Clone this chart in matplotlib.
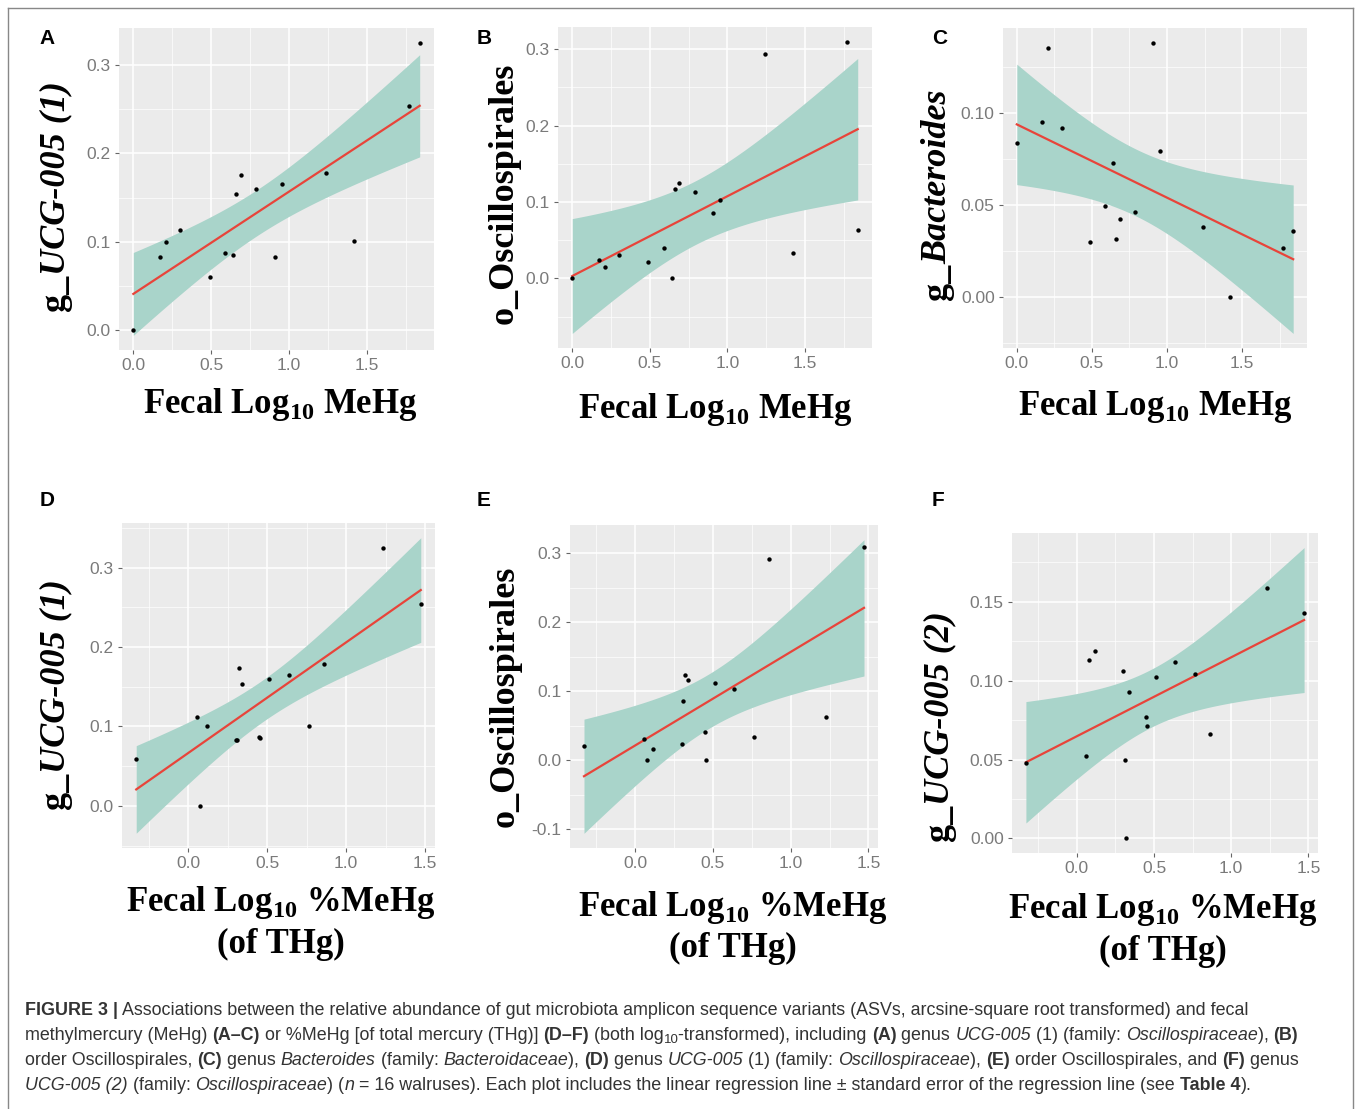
import numpy as np
import matplotlib
matplotlib.use('Agg')
import matplotlib.pyplot as plt
from matplotlib.ticker import MultipleLocator, FormatStrFormatter

plt.rcParams['mathtext.fontset'] = 'custom'
plt.rcParams['mathtext.rm'] = 'Liberation Serif:bold'
plt.rcParams['mathtext.bf'] = 'Liberation Serif:bold'
plt.rcParams['axes.unicode_minus'] = False

W, H = 1357, 1109

# fecal log10 MeHg (panels A-C) and log10 %MeHg (panels D-F), one value per walrus
log_mehg = [0.0, 0.17, 0.21, 0.30, 0.49, 0.59, 0.64, 0.66, 0.69, 0.79, 0.91, 0.955, 1.24, 1.42, 1.77, 1.84]
log_pct_mehg = [-0.33, 0.057, 0.077, 0.117, 0.30, 0.31, 0.32, 0.337, 0.45, 0.452, 0.51, 0.635, 0.765, 0.86, 1.23, 1.472]

ucg005_1_a = [0.0, 0.083, 0.100, 0.113, 0.060, 0.087, 0.085, 0.154, 0.175, 0.160, 0.083, 0.165, 0.178, 0.101, 0.254, 0.325]
oscillo_b = [0.0, 0.024, 0.015, 0.031, 0.021, 0.040, 0.0, 0.117, 0.125, 0.113, 0.086, 0.103, 0.294, 0.033, 0.310, 0.063]
bacteroides_c = [0.0833, 0.095, 0.135, 0.0918, 0.0296, 0.0495, 0.0724, 0.0315, 0.042, 0.046, 0.138, 0.079, 0.038, 0.0, 0.0267, 0.0358]
ucg005_1_d = [0.059, 0.112, 0.0, 0.100, 0.083, 0.083, 0.174, 0.154, 0.0866, 0.085, 0.160, 0.165, 0.101, 0.178, 0.325, 0.254]
oscillo_e = [0.0215, 0.031, 0.0, 0.016, 0.024, 0.086, 0.124, 0.116, 0.041, 0.0, 0.112, 0.103, 0.034, 0.292, 0.063, 0.309]
ucg005_2_f = [0.048, 0.052, 0.113, 0.119, 0.106, 0.050, 0.0, 0.093, 0.077, 0.071, 0.1025, 0.112, 0.104, 0.066, 0.159, 0.143]

T_975_14 = 2.145  # t quantile, n - 2 = 14 df

BG = '#EBEBEB'
BAND = '#A9D4CA'
RED = '#E8443A'
SERIF = 'Liberation Serif'


def fit_band(x, y, n=100):
    x = np.asarray(x, float)
    y = np.asarray(y, float)
    b, a = np.polyfit(x, y, 1)
    xs = np.linspace(x.min(), x.max(), n)
    s = np.sqrt(np.sum((y - (a + b * x)) ** 2) / (len(x) - 2))
    sxx = np.sum((x - x.mean()) ** 2)
    se = s * np.sqrt(1.0 / len(x) + (xs - x.mean()) ** 2 / sxx)
    fit = a + b * xs
    return xs, fit, fit - T_975_14 * se, fit + T_975_14 * se


fig = plt.figure(figsize=(W / 100, H / 100), dpi=100)
renderer = fig.canvas.get_renderer()


def px(x, y):
    return x / W, 1 - y / H


def text_w(s, **kw):
    t1 = fig.text(0, 0, '|' + s + '|', **kw)
    t2 = fig.text(0, 0, '||', **kw)
    w = t1.get_window_extent(renderer).width - t2.get_window_extent(renderer).width
    t1.remove()
    t2.remove()
    return w


def run_kw(base, props):
    kw = dict(base)
    kw.update({k: v for k, v in props.items() if k != 'dy'})
    return kw


def draw_runs(runs, x, y, vertical=False, **base):
    # runs: list of (text, props); x, y in pixels (top-down), baseline start
    for s, props in runs:
        kw = run_kw(base, props)
        dy = props.get('dy', 0)
        w = text_w(s, **kw)
        if vertical:
            fig.text(*px(x, y), s, rotation=90, rotation_mode='anchor',
                     ha='left', va='baseline', **kw)
            y -= w
        else:
            fig.text(*px(x, y + dy), s, ha='left', va='baseline', **kw)
            x += w


def runs_width(runs, **base):
    return sum(text_w(s, **run_kw(base, props)) for s, props in runs)


IT = {'style': 'italic'}
ylab_ucg1 = [('g_', {}), ('UCG-005 (1)', IT)]
ylab_osc = [('o_Oscillospirales', {})]
ylab_bac = [('g_', {}), ('Bacteroides', IT)]
ylab_ucg2 = [('g_', {}), ('UCG-005 (2)', IT)]

xlab_mehg = ['Fecal Log$_{10}$ MeHg']
xlab_pct = ['Fecal Log$_{10}$ %MeHg', '(of THg)']

panels = [
    dict(letter='A', lp=(47, 38), x=log_mehg, y=ucg005_1_a, box=(119, 28, 434, 350), ystep=0.1, yfmt='%.1f',
         ylab=ylab_ucg1, ylp=(64, 196), xlab=xlab_mehg, xlp=[(280, 413)]),
    dict(letter='B', lp=(484, 38), x=log_mehg, y=oscillo_b, box=(558, 27, 872, 348), ystep=0.1, yfmt='%.1f',
         ylab=ylab_osc, ylp=(513, 193), xlab=xlab_mehg, xlp=[(715, 418)]),
    dict(letter='C', lp=(940, 38), x=log_mehg, y=bacteroides_c, box=(1003, 28, 1307, 348), ystep=0.05, yfmt='%.2f',
         ylab=ylab_bac, ylp=(946, 195), xlab=xlab_mehg, xlp=[(1155, 415)]),
    dict(letter='D', lp=(47, 500), x=log_pct_mehg, y=ucg005_1_d, box=(122, 523, 435, 848), ystep=0.1, yfmt='%.1f',
         ylab=ylab_ucg1, ylp=(64, 694), xlab=xlab_pct, xlp=[(281, 911), (281, 953)]),
    dict(letter='E', lp=(484, 500), x=log_pct_mehg, y=oscillo_e, box=(570, 525, 878, 848), ystep=0.1, yfmt='%.1f',
         ylab=ylab_osc, ylp=(514, 696), xlab=xlab_pct, xlp=[(733, 916), (733, 957)]),
    dict(letter='F', lp=(938, 500), x=log_pct_mehg, y=ucg005_2_f, box=(1012, 533, 1318, 853), ystep=0.05, yfmt='%.2f',
         ylab=ylab_ucg2, ylp=(948, 726), xlab=xlab_pct, xlp=[(1163, 918), (1163, 960)]),
]

for p in panels:
    l, t, r, b = p['box']
    ax = fig.add_axes([l / W, 1 - b / H, (r - l) / W, (b - t) / H])
    ax.set_facecolor(BG)
    for sp in ax.spines.values():
        sp.set_visible(False)
    xs, fit, lo, hi = fit_band(p['x'], p['y'])
    ax.fill_between(xs, lo, hi, color=BAND, lw=0, zorder=2)
    ax.plot(xs, fit, color=RED, lw=1.6, zorder=3)
    ax.scatter(p['x'], p['y'], s=10, color='black', lw=0, zorder=4)
    x = np.asarray(p['x'])
    y = np.concatenate([np.asarray(p['y']), lo, hi])
    xr = x.max() - x.min()
    yr = y.max() - y.min()
    ax.set_xlim(x.min() - 0.05 * xr, x.max() + 0.05 * xr)
    ax.set_ylim(y.min() - 0.05 * yr, y.max() + 0.05 * yr)
    ax.xaxis.set_major_locator(MultipleLocator(0.5))
    ax.xaxis.set_minor_locator(MultipleLocator(0.25))
    ax.yaxis.set_major_locator(MultipleLocator(p['ystep']))
    ax.yaxis.set_minor_locator(MultipleLocator(p['ystep'] / 2))
    ax.xaxis.set_major_formatter(FormatStrFormatter('%.1f'))
    ax.yaxis.set_major_formatter(FormatStrFormatter(p['yfmt']))
    ax.grid(which='major', color='white', lw=1.1)
    ax.grid(which='minor', color='white', lw=0.5)
    ax.set_axisbelow(True)
    ax.tick_params(which='major', length=3, width=0.8, color='#666666', labelcolor='#7a7a7a',
                   labelsize=12.5, pad=3)
    ax.tick_params(which='minor', length=0)
    for lab in ax.get_xticklabels() + ax.get_yticklabels():
        lab.set_family('Liberation Sans')

    fig.text(*px(*p['lp']), p['letter'], ha='center', va='center', fontsize=15,
             fontweight='bold', family='Liberation Sans')

    tot = runs_width(p['ylab'], family=SERIF, fontweight='bold', fontsize=26)
    draw_runs(p['ylab'], p['ylp'][0], p['ylp'][1] + tot / 2, vertical=True,
              family=SERIF, fontweight='bold', fontsize=26)

    for s, (cx, cy) in zip(p['xlab'], p['xlp']):
        fig.text(*px(cx, cy), s, ha='center', va='baseline', family=SERIF,
                 fontweight='bold', fontsize=25)

# caption
BOLD = {'fontweight': 'bold'}
SUB = {'fontsize': 9.5, 'dy': 3}
caption = [
    [('FIGURE 3 |', BOLD),
     (' Associations between the relative abundance of gut microbiota amplicon sequence variants '
      '(ASVs, arcsine-square root transformed) and fecal', {})],
    [('methylmercury (MeHg) ', {}), ('(A\u2013C)', BOLD), (' or %MeHg [of total mercury (THg)] ', {}),
     ('(D\u2013F)', BOLD), (' (both log', {}), ('10', SUB), ('-transformed), including ', {}),
     ('(A)', BOLD), (' genus ', {}), ('UCG-005', IT), (' (1) (family: ', {}), ('Oscillospiraceae', IT),
     ('), ', {}), ('(B)', BOLD)],
    [('order Oscillospirales, ', {}), ('(C)', BOLD), (' genus ', {}), ('Bacteroides', IT),
     (' (family: ', {}), ('Bacteroidaceae', IT), ('), ', {}), ('(D)', BOLD), (' genus ', {}),
     ('UCG-005', IT), (' (1) (family: ', {}), ('Oscillospiraceae', IT), ('), ', {}), ('(E)', BOLD),
     (' order Oscillospirales, and ', {}), ('(F)', BOLD), (' genus', {})],
    [('UCG-005 (2)', IT), (' (family: ', {}), ('Oscillospiraceae', IT), (') (', {}), ('n', IT),
     (' = 16 walruses). Each plot includes the linear regression line \u00b1 standard error of the '
      'regression line (see ', {}), ('Table 4', BOLD), (').', {})],
]
baselines = [1015, 1040, 1065, 1090]
for line, yb in zip(caption, baselines):
    draw_runs(line, 25, yb, family='Liberation Sans', fontsize=12.9, color='#333333')

# outer frame
for xs_, ys_ in [([8, 8], [1109, 8]), ([8, 1353], [8, 8]), ([1353, 1353], [8, 1109])]:
    fig.add_artist(plt.Line2D([v / W for v in xs_], [1 - v / H for v in ys_], color='#888888',
                              lw=1, transform=fig.transFigure))

fig.savefig('out.png', dpi=100)
